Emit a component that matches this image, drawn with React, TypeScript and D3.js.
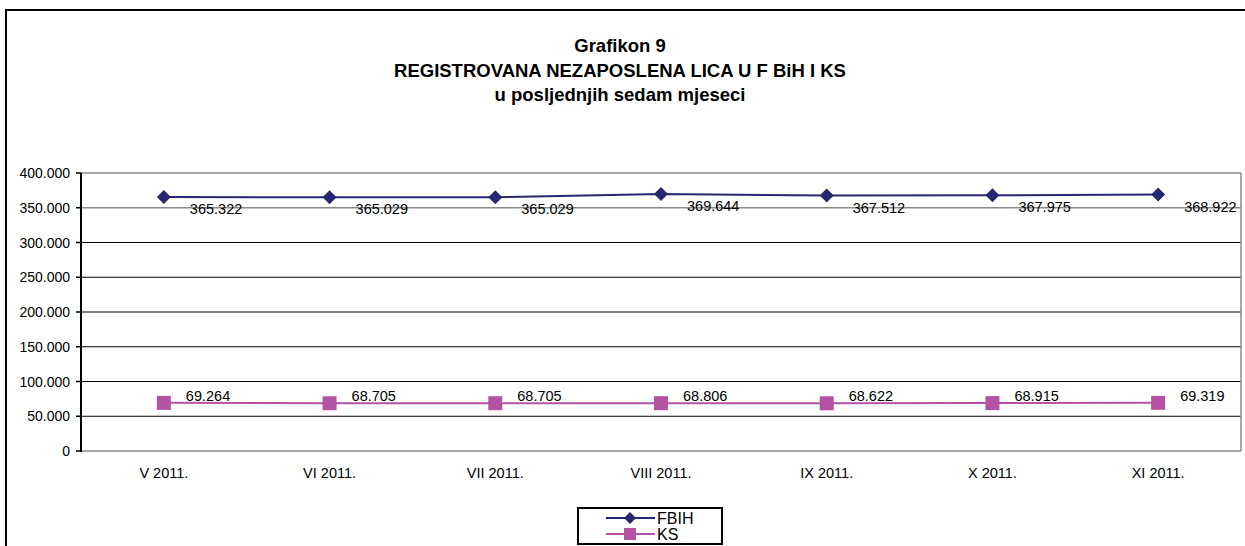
import React from "react";
import * as d3 from "d3";

const months = ["V 2011.", "VI 2011.", "VII 2011.", "VIII 2011.", "IX 2011.", "X 2011.", "XI 2011."];
const fbih = [365322, 365029, 365029, 369644, 367512, 367975, 368922];
const ks = [69264, 68705, 68705, 68806, 68622, 68915, 69319];
const yTicks = [0, 50000, 100000, 150000, 200000, 250000, 300000, 350000, 400000];
const titleLines = ["Grafikon 9", "REGISTROVANA NEZAPOSLENA LICA U F BiH I KS", "u posljednjih sedam mjeseci"];

const W = 1245;
const H = 546;
const FONT = "'Liberation Sans', Arial, sans-serif";
const NAVY = "#27276f";
const PINK = "#b452a3";

const fmt = (v: number) => d3.format(",")(v).replace(/,/g, ".");

const App = () => {
  const left = 81;
  const right = 1241;
  const top = 173;
  const bottom = 451;

  const x = d3.scaleBand<string>().domain(months).range([left, right]);
  const y = d3.scaleLinear().domain([0, 400000]).range([bottom, top]);
  const cx = (m: string) => (x(m) as number) + x.bandwidth() / 2;

  const line = d3
    .line<number>()
    .x((_, i) => cx(months[i]))
    .y((d) => y(d));

  const diamond = (px: number, py: number, r: number) =>
    `M${px},${py - r}L${px + r},${py}L${px},${py + r}L${px - r},${py}Z`;

  return (
    <svg width={W} height={H} style={{ position: "absolute", left: 0, top: 0, display: "block" }} fontFamily={FONT}>
      <rect x={0} y={0} width={W} height={H} fill="#fff" />
      {/* outer frame (cropped at right and bottom) */}
      <rect x={6} y={10} width={1400} height={700} fill="none" stroke="#000" strokeWidth={2} />

      {titleLines.map((t, i) => (
        <text key={t} x={620} y={52 + i * 24.5} textAnchor="middle" fontSize={18.5} fontWeight="bold" fill="#000">
          {t}
        </text>
      ))}

      {/* gridlines */}
      {yTicks.map((t) => (
        <line
          key={t}
          x1={left}
          x2={right}
          y1={y(t)}
          y2={y(t)}
          stroke={t >= 350000 || t === 0 ? "#8a8a8a" : "#000"}
          strokeWidth={t >= 350000 || t === 0 ? 1.5 : 1}
        />
      ))}
      {/* right border of plot area */}
      <line x1={right} x2={right} y1={top} y2={bottom} stroke="#8a8a8a" strokeWidth={1.5} />

      {/* y axis */}
      <line x1={left} x2={left} y1={top} y2={bottom + 1} stroke="#000" strokeWidth={2} />
      {yTicks.map((t) => (
        <g key={"t" + t}>
          <line x1={left - 5} x2={left} y1={y(t)} y2={y(t)} stroke="#000" strokeWidth={1.5} />
          <text x={70} y={y(t) + 5} textAnchor="end" fontSize={14} fill="#000">
            {t === 0 ? "0" : fmt(t)}
          </text>
        </g>
      ))}

      {/* x labels */}
      {months.map((m) => (
        <text key={m} x={cx(m)} y={478} textAnchor="middle" fontSize={14.5} fill="#000">
          {m}
        </text>
      ))}

      {/* FBIH series */}
      <path d={line(fbih) || ""} fill="none" stroke={NAVY} strokeWidth={2} />
      {fbih.map((v, i) => (
        <g key={"f" + i}>
          <path d={diamond(cx(months[i]), y(v), 7)} fill={NAVY} />
          <text x={cx(months[i]) + 26} y={y(v) + 17} fontSize={14.5} fill="#000">
            {fmt(v)}
          </text>
        </g>
      ))}

      {/* KS series */}
      <path d={line(ks) || ""} fill="none" stroke={PINK} strokeWidth={2} />
      {ks.map((v, i) => (
        <g key={"k" + i}>
          <rect x={cx(months[i]) - 7} y={y(v) - 7} width={14} height={14} fill={PINK} />
          <text x={cx(months[i]) + 22} y={y(v) - 2} fontSize={14.5} fill="#000">
            {fmt(v)}
          </text>
        </g>
      ))}

      {/* legend */}
      <rect x={578} y={508} width={144} height={36} fill="#fff" stroke="#000" strokeWidth={2} />
      <line x1={606} x2={655} y1={518} y2={518} stroke={NAVY} strokeWidth={2} />
      <path d={diamond(630, 518, 6)} fill={NAVY} />
      <text x={657} y={524} fontSize={16} fill="#000">FBIH</text>
      <line x1={606} x2={655} y1={534} y2={534} stroke={PINK} strokeWidth={2} />
      <rect x={624} y={528} width={12} height={12} fill={PINK} />
      <text x={657} y={540} fontSize={16} fill="#000">KS</text>
    </svg>
  );
};

export default App;
